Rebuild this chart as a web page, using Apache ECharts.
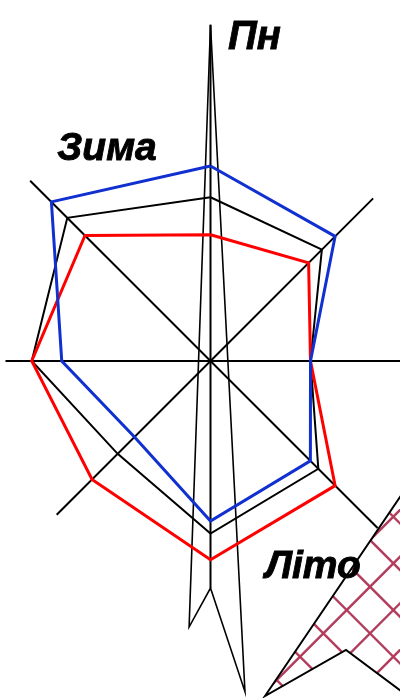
<!DOCTYPE html>
<html><head><meta charset="utf-8">
<script src="https://cdn.jsdelivr.net/npm/echarts@6/dist/echarts.min.js"></script>
<style>html,body{margin:0;padding:0;background:#fff}#c{width:400px;height:698px}</style>
</head><body><div id="c"></div>
<script>
// Directions clockwise from north (degrees)
const directions = ['Пн','ПнСх','Сх','ПдСх','Пд','ПдЗх','Зх','ПнЗх'];
const directionAngles = [0,45,90,135,180,225,270,315];
// Wind frequency, %
const winter = [15.6,14.1,8.0,11.3,12.8,8.6,11.9,18.0];
const annual = [13.1,12.6,8.0,12.2,13.8,10.5,14.3,16.2];
const summer = [10.1,11.1,8.0,14.1,15.9,13.4,14.3,14.2];
// Axis lines: [length toward first angle, length toward opposite angle]
const axisAngles = [0,45,90,135];
const axisEnds = [[26.9,18.16],[18.4,17.4],[17.2,16.4],[18.9,20.4]];
// North arrow outline (radius, angle)
const arrowR = [26.9,21.35,18.16,26.6,26.9];
const arrowAngle = [0,184.6,180,174.05,0];
const northLabel = 'Пн';
const winterLabel = 'Зима';
const summerLabel = 'Літо';

const chart = echarts.init(document.getElementById('c'), null, {renderer:'canvas'});

function closed(vals){
  const d = vals.map((v,i)=>[v, directionAngles[i]]);
  d.push([vals[0], directionAngles[0]]);
  return d;
}
function lineSeries(data, color, width, z){
  return {type:'line', coordinateSystem:'polar', data, symbol:'none', showSymbol:false,
    clip:false, silent:true, z, lineStyle:{color, width, join:'miter', miterLimit:40}, animation:false};
}

// cross-hatch pattern (global coordinates)
const pc = document.createElement('canvas');
pc.width = 400; pc.height = 698;
const g = pc.getContext('2d');
g.strokeStyle = '#b33b5b'; g.lineWidth = 2.4;
const P = 46.67;
for (let c = 23.33 - 10*P; c < 1200; c += P){ // x+y=c
  g.beginPath(); g.moveTo(c+50, -50); g.lineTo(c-750, 750); g.stroke();
}
for (let d = 30 - 20*P; d < 800; d += P){ // y-x=d
  g.beginPath(); g.moveTo(-50, d-50); g.lineTo(750, d+750); g.stroke();
}

const series = [];
axisAngles.forEach((a,i)=>{
  series.push(lineSeries([[axisEnds[i][0], a],[0,a],[axisEnds[i][1], a+180]], '#000', 2, 1));
});
series.push(lineSeries(arrowR.map((r,i)=>[r, arrowAngle[i]]), '#000', 1.6, 1));
series.push(lineSeries(closed(annual), '#000', 2, 2));
series.push(lineSeries(closed(summer), '#ff0000', 3, 3));
series.push(lineSeries(closed(winter), '#1030d0', 3, 4));

const font = s => 'italic bold ' + s + 'px "Liberation Sans", Arial, sans-serif';
chart.setOption({
  animation:false,
  backgroundColor:'#fff',
  polar:{center:[210.5,361], radius:375},
  angleAxis:{type:'value', min:0, max:360, startAngle:90, clockwise:true, show:false},
  radiusAxis:{type:'value', min:0, max:30, show:false},
  series,
  graphic:[
    {type:'polygon', z:5, silent:true,
      shape:{points:[[265,696],[420,467.5],[420,705],[346,650]]},
      style:{fill:{image:pc, repeat:'no-repeat'}, stroke:'#000', lineWidth:2}},
    {type:'text', z:10, style:{text:northLabel, x:254.5, y:37.5, align:'center', verticalAlign:'middle', font:font(40), fill:'#000', stroke:'#000', lineWidth:0.8}},
    {type:'text', z:10, style:{text:winterLabel, x:107, y:149.5, align:'center', verticalAlign:'middle', font:font(39), fill:'#000', stroke:'#000', lineWidth:0.9}},
    {type:'text', z:10, style:{text:summerLabel, x:313, y:567.5, align:'center', verticalAlign:'middle', font:font(39), fill:'#000', stroke:'#000', lineWidth:0.9}}
  ]
});
</script></body></html>
